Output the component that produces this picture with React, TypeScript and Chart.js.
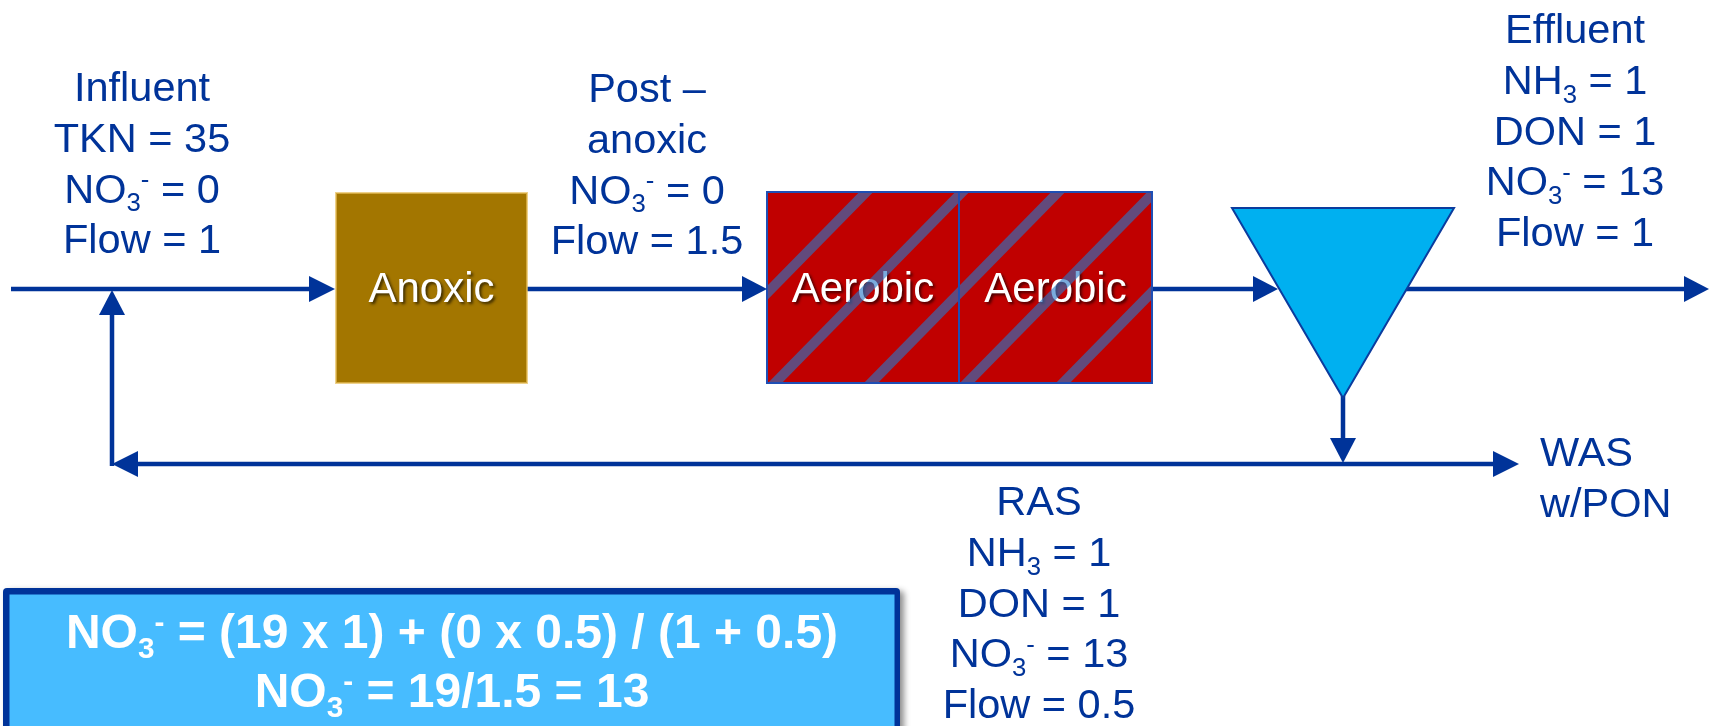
import React, { useEffect, useRef } from "react";
import { Chart, registerables } from "chart.js";

Chart.register(...registerables);

// ---------- canvas / diagram space ----------
const CANVAS_W = 1711;
const CANVAS_H = 726;

// ---------- text content (data) ----------
const influentLines = ["Influent", "TKN = 35", "NO_3^- = 0", "Flow = 1"];
const postAnoxicLines = ["Post –", "anoxic", "NO_3^- = 0", "Flow = 1.5"];
const effluentLines = ["Effluent", "NH_3 = 1", "DON = 1", "NO_3^- = 13", "Flow = 1"];
const rasLines = ["RAS", "NH_3 = 1", "DON = 1", "NO_3^- = 13", "Flow = 0.5"];
const wasLines = ["WAS", "w/PON"];
const formulaLines = ["NO_3^- = (19 x 1) + (0 x 0.5) / (1 + 0.5)", "NO_3^- = 19/1.5 = 13"];
const unitNames = ["Anoxic", "Aerobic", "Aerobic"];

// ---------- layout (diagram units) ----------
const pipeRuns: [number, number][][] = [
  [[11, 289], [312, 289]],
  [[527, 289], [745, 289]],
  [[1152, 289], [1256, 289]],
  [[1405, 289], [1687, 289]],
  [[1343, 396], [1343, 441]],
  [[136, 464], [1495, 464]],
  [[112, 466], [112, 313]],
];
const arrowHeads: { tip: [number, number]; from: [number, number] }[] = [
  { tip: [335, 289], from: [309, 289] },
  { tip: [767, 289], from: [742, 289] },
  { tip: [1278, 289], from: [1253, 289] },
  { tip: [1709, 289], from: [1684, 289] },
  { tip: [112, 290], from: [112, 315] },
  { tip: [112, 464], from: [138, 464] },
  { tip: [1343, 463], from: [1343, 438] },
  { tip: [1519, 464], from: [1493, 464] },
];
const unitBoxes = [
  { x0: 336, y0: 193, x1: 527, y1: 383, fill: "#A37600", stroke: "rgba(230,190,90,0.7)" },
  { x0: 767, y0: 192, x1: 959, y1: 383, fill: "#C00000", stroke: "#1F4FB5" },
  { x0: 959, y0: 192, x1: 1152, y1: 383, fill: "#C00000", stroke: "#1F4FB5" },
];
const clarifier: [number, number][] = [[1232, 208], [1454, 208], [1343, 398]];
const labelBlocks = [
  { lines: influentLines, x: 142, y: 101, align: "center" },
  { lines: postAnoxicLines, x: 647, y: 102, align: "center" },
  { lines: effluentLines, x: 1575, y: 43, align: "center" },
  { lines: rasLines, x: 1039, y: 515, align: "center" },
  { lines: wasLines, x: 1540, y: 466, align: "left" },
];
const formulaBox = { x0: 3, y0: 588, x1: 900, y1: 760, cx: 452, baselines: [648, 707] };

const BLUE = "#003399";
const FONT = '"Liberation Sans", Arial, Helvetica, sans-serif';

type Seg = { t: string; k: 0 | 1 | 2 };
function parseRich(s: string): Seg[] {
  const segs: Seg[] = [];
  let buf = "";
  for (let i = 0; i < s.length; i++) {
    const c = s[i];
    if ((c === "_" || c === "^") && i + 1 < s.length) {
      if (buf) {
        segs.push({ t: buf, k: 0 });
        buf = "";
      }
      segs.push({ t: s[i + 1], k: c === "_" ? 1 : 2 });
      i++;
    } else buf += c;
  }
  if (buf) segs.push({ t: buf, k: 0 });
  return segs;
}

function drawRich(
  ctx: CanvasRenderingContext2D,
  s: string,
  x: number,
  y: number,
  size: number,
  weight: string,
  align: string
) {
  const segs = parseRich(s);
  const fontFor = (k: number) => `${weight} ${k ? size * 0.62 : size}px ${FONT}`;
  let total = 0;
  const widths = segs.map((sg) => {
    ctx.font = fontFor(sg.k);
    const w = ctx.measureText(sg.t).width;
    total += w;
    return w;
  });
  let cx = align === "center" ? x - total / 2 : x;
  ctx.textAlign = "left";
  ctx.textBaseline = "alphabetic";
  segs.forEach((sg, i) => {
    ctx.font = fontFor(sg.k);
    const dy = sg.k === 1 ? size * 0.21 : sg.k === 2 ? -size * 0.34 : 0;
    ctx.fillText(sg.t, cx, y + dy);
    cx += widths[i];
  });
}

const diagramPlugin = {
  id: "processDiagram",
  afterDatasetsDraw(chart: any) {
    const ctx: CanvasRenderingContext2D = chart.ctx;
    const xs = chart.scales.x;
    const ys = chart.scales.y;
    const px = (v: number) => xs.getPixelForValue(v);
    const py = (v: number) => ys.getPixelForValue(v);
    ctx.save();

    // unit boxes
    unitBoxes.forEach((b, i) => {
      const x0 = px(b.x0), y0 = py(b.y0), x1 = px(b.x1), y1 = py(b.y1);
      ctx.fillStyle = b.fill;
      ctx.fillRect(x0, y0, x1 - x0, y1 - y0);
      ctx.save();
      ctx.shadowColor = "rgba(0,0,0,0.65)";
      ctx.shadowBlur = 3;
      ctx.shadowOffsetX = 2;
      ctx.shadowOffsetY = 2;
      ctx.fillStyle = "#FFFFFF";
      ctx.font = `42px ${FONT}`;
      ctx.textAlign = "center";
      ctx.textBaseline = "alphabetic";
      ctx.fillText(unitNames[i], (x0 + x1) / 2, (y0 + y1) / 2 + 14);
      ctx.restore();
    });

    // hatch over aerobic zone
    const ax0 = px(unitBoxes[1].x0), ay0 = py(unitBoxes[1].y0);
    const ax1 = px(unitBoxes[2].x1), ay1 = py(unitBoxes[2].y1);
    ctx.save();
    ctx.beginPath();
    ctx.rect(ax0, ay0, ax1 - ax0, ay1 - ay0);
    ctx.clip();
    ctx.strokeStyle = "rgba(40,120,200,0.62)";
    ctx.lineWidth = 10;
    ctx.lineCap = "butt";
    const rise = ay1 - ay0;
    for (let b = ax0 - 92; b < ax1; b += 96) {
      ctx.beginPath();
      ctx.moveTo(b, ay1 + 4);
      ctx.lineTo(b + rise * 0.98 + 8, ay0 - 4);
      ctx.stroke();
    }
    ctx.restore();

    // box borders
    unitBoxes.forEach((b) => {
      const x0 = px(b.x0), y0 = py(b.y0), x1 = px(b.x1), y1 = py(b.y1);
      ctx.strokeStyle = b.stroke;
      ctx.lineWidth = 2;
      ctx.strokeRect(x0, y0, x1 - x0, y1 - y0);
    });

    // clarifier
    ctx.beginPath();
    clarifier.forEach(([x, y], i) => (i ? ctx.lineTo(px(x), py(y)) : ctx.moveTo(px(x), py(y))));
    ctx.closePath();
    ctx.fillStyle = "#00B0F0";
    ctx.fill();
    ctx.strokeStyle = "#0B3C9E";
    ctx.lineWidth = 2;
    ctx.lineJoin = "miter";
    ctx.stroke();

    // arrowheads
    ctx.fillStyle = BLUE;
    arrowHeads.forEach((a) => {
      const tx = px(a.tip[0]), ty = py(a.tip[1]);
      const fx = px(a.from[0]), fy = py(a.from[1]);
      const dx = tx - fx, dy = ty - fy;
      const len = Math.hypot(dx, dy) || 1;
      const nx = -dy / len, ny = dx / len;
      const hw = 13;
      ctx.beginPath();
      ctx.moveTo(tx, ty);
      ctx.lineTo(fx + nx * hw, fy + ny * hw);
      ctx.lineTo(fx - nx * hw, fy - ny * hw);
      ctx.closePath();
      ctx.fill();
    });

    // stream labels
    ctx.fillStyle = BLUE;
    labelBlocks.forEach((blk) => {
      blk.lines.forEach((ln, i) => {
        drawRich(ctx, ln, px(blk.x), py(blk.y + i * 50.8), 41.5, "normal", blk.align);
      });
    });

    // formula box
    const fx0 = px(formulaBox.x0), fy0 = py(formulaBox.y0);
    const fx1 = px(formulaBox.x1), fy1 = py(formulaBox.y1);
    ctx.save();
    ctx.shadowColor = "rgba(0,0,0,0.45)";
    ctx.shadowBlur = 6;
    ctx.shadowOffsetX = 4;
    ctx.shadowOffsetY = 3;
    ctx.fillStyle = BLUE;
    ctx.beginPath();
    (ctx as any).roundRect(fx0, fy0, fx1 - fx0, fy1 - fy0, 4);
    ctx.fill();
    ctx.restore();
    ctx.fillStyle = "#47BCFF";
    ctx.fillRect(fx0 + 6.5, fy0 + 6.5, fx1 - fx0 - 12, fy1 - fy0 - 13);
    ctx.fillStyle = "#FFFFFF";
    formulaLines.forEach((ln, i) => {
      drawRich(ctx, ln, px(formulaBox.cx), py(formulaBox.baselines[i]), 48, "bold", "center");
    });

    ctx.restore();
  },
};

export default function App() {
  const ref = useRef<HTMLCanvasElement | null>(null);
  useEffect(() => {
    const canvas = ref.current;
    if (!canvas) return;
    const chart = new Chart(canvas, {
      type: "line",
      data: {
        datasets: pipeRuns.map((run, i) => ({
          label: `pipe ${i + 1}`,
          data: run.map(([x, y]) => ({ x, y })),
          borderColor: BLUE,
          borderWidth: 4.5,
          borderCapStyle: "butt",
          pointRadius: 0,
          tension: 0,
          fill: false,
        })),
      } as any,
      options: {
        responsive: false,
        animation: false,
        events: [],
        layout: { padding: 0 },
        scales: {
          x: { type: "linear", min: 0, max: CANVAS_W, display: false },
          y: { type: "linear", min: 0, max: CANVAS_H, reverse: true, display: false },
        },
        plugins: { legend: { display: false }, tooltip: { enabled: false } },
      } as any,
      plugins: [diagramPlugin],
    });
    return () => chart.destroy();
  }, []);
  return (
    <div style={{ position: "absolute", left: 0, top: 0, width: CANVAS_W, height: CANVAS_H, background: "#fff" }}>
      <canvas ref={ref} width={CANVAS_W} height={CANVAS_H} style={{ display: "block" }} />
    </div>
  );
}
